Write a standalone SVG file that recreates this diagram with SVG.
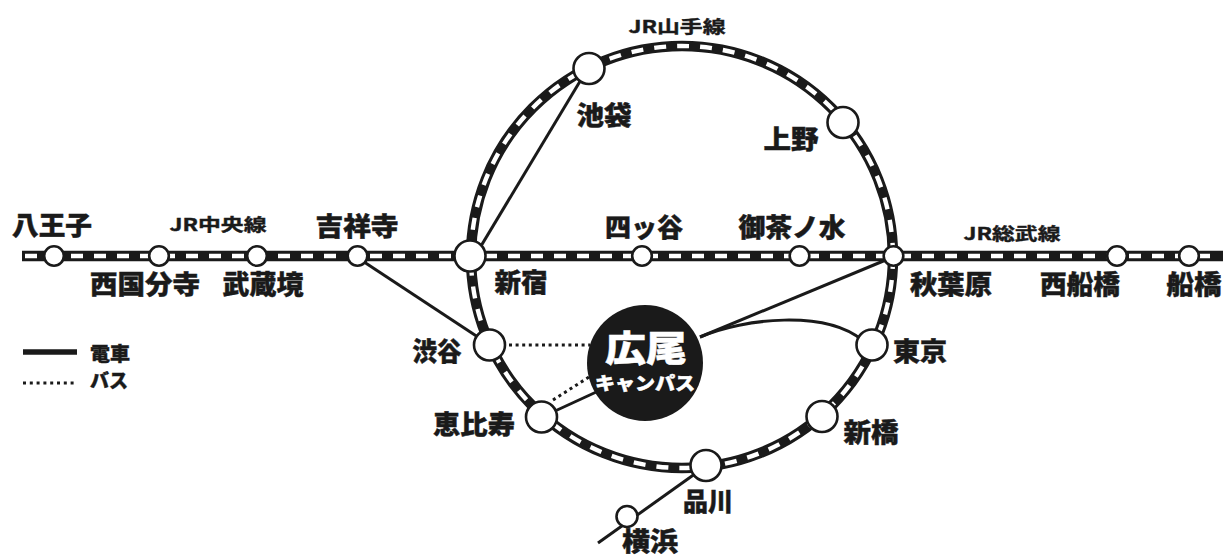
<svg xmlns="http://www.w3.org/2000/svg" width="1224" height="556" viewBox="0 0 1224 556">
<style>
.band{fill:none;stroke:#1a1a1a;stroke-width:10.5}
.dash{fill:none;stroke:#fff;stroke-width:4.4;stroke-dasharray:12 11}
.con{fill:none;stroke:#1a1a1a;stroke-width:3}
.bus{fill:none;stroke:#1a1a1a;stroke-width:3;stroke-dasharray:3 3.6}
.st{fill:#fff;stroke:#1a1a1a;stroke-width:2.6}
.lb{font-family:"Noto Sans CJK JP","Noto Sans",sans-serif;font-weight:900;font-size:26px;fill:#1a1a1a;stroke:#1a1a1a;stroke-width:0.45;text-anchor:middle}
.jr{font-family:"Noto Sans CJK JP","Noto Sans",sans-serif;font-weight:700;font-size:17px;fill:#1a1a1a;stroke:#1a1a1a;stroke-width:0.4;text-anchor:middle}
.lg{font-family:"Noto Sans CJK JP","Noto Sans",sans-serif;font-weight:900;font-size:19px;fill:#1a1a1a;stroke:#1a1a1a;stroke-width:0.4}
.cp{font-family:"Noto Sans CJK JP","Noto Sans",sans-serif;font-weight:900;fill:#fff;stroke:#fff;stroke-width:0.5;text-anchor:middle}
</style>
<rect width="1224" height="556" fill="#fff"/>
<g id="lines">
  <circle class="band" cx="682" cy="257" r="211"/>
  <circle class="dash" cx="682" cy="257" r="211"/>
  <line class="band" x1="22" y1="256" x2="1223" y2="256"/>
  <line class="dash" x1="25" y1="256" x2="1221" y2="256"/>
</g>
<g id="connectors">
  <line class="con" x1="355" y1="256" x2="490" y2="345"/>
  <line class="con" x1="475" y1="256" x2="588" y2="68"/>
  <line class="con" x1="700" y1="337" x2="893" y2="257"/>
  <path class="con" d="M700,337 C745,318 825,310 862,340"/>
  <line class="con" x1="542" y1="417" x2="605" y2="388"/>
  <line class="bus" x1="509" y1="345" x2="590" y2="345"/>
  <line class="bus" x1="553" y1="400" x2="589" y2="377"/>
  <line class="con" x1="598" y1="543" x2="706" y2="466"/>
</g>
<g id="campus">
  <circle cx="645" cy="363" r="58" fill="#1a1a1a"/>
  <text class="cp" x="646" y="362" font-size="36" textLength="82" lengthAdjust="spacingAndGlyphs">広尾</text>
  <text class="cp" x="645" y="390" font-size="18" textLength="100" lengthAdjust="spacingAndGlyphs">キャンパス</text>
</g>
<g id="st-hachioji"><circle class="st" cx="54" cy="256" r="9.8"/><text class="lb" x="52" y="235" textLength="80" lengthAdjust="spacingAndGlyphs">八王子</text></g>
<g id="st-nishikokubunji"><circle class="st" cx="159" cy="256" r="9.8"/><text class="lb" x="145" y="294" textLength="110" lengthAdjust="spacingAndGlyphs">西国分寺</text></g>
<g id="st-musashisakai"><circle class="st" cx="257" cy="256" r="9.8"/><text class="lb" x="263" y="294" textLength="81" lengthAdjust="spacingAndGlyphs">武蔵境</text></g>
<g id="st-kichijoji"><circle class="st" cx="357.5" cy="256" r="9.8"/><text class="lb" x="357" y="236" textLength="83" lengthAdjust="spacingAndGlyphs">吉祥寺</text></g>
<g id="st-shinjuku"><circle class="st" cx="470" cy="256" r="15.5"/><text class="lb" x="521" y="292" textLength="53" lengthAdjust="spacingAndGlyphs">新宿</text></g>
<g id="st-yotsuya"><circle class="st" cx="642" cy="256" r="9.8"/><text class="lb" x="644" y="237" textLength="78" lengthAdjust="spacingAndGlyphs">四ッ谷</text></g>
<g id="st-ochanomizu"><circle class="st" cx="799.5" cy="256" r="9.8"/><text class="lb" x="792" y="237" textLength="107" lengthAdjust="spacingAndGlyphs">御茶ノ水</text></g>
<g id="st-akihabara"><circle class="st" cx="893.5" cy="256" r="9.8"/><text class="lb" x="951" y="294" textLength="82" lengthAdjust="spacingAndGlyphs">秋葉原</text></g>
<g id="st-nishifunabashi"><circle class="st" cx="1117" cy="256" r="9.8"/><text class="lb" x="1080" y="294" textLength="80" lengthAdjust="spacingAndGlyphs">西船橋</text></g>
<g id="st-funabashi"><circle class="st" cx="1189" cy="256" r="9.8"/><text class="lb" x="1194" y="294" textLength="55" lengthAdjust="spacingAndGlyphs">船橋</text></g>
<g id="st-ikebukuro"><circle class="st" cx="589" cy="68.5" r="15.5"/><text class="lb" x="604" y="125" textLength="55" lengthAdjust="spacingAndGlyphs">池袋</text></g>
<g id="st-ueno"><circle class="st" cx="843" cy="122.5" r="15.5"/><text class="lb" x="791" y="149" textLength="55" lengthAdjust="spacingAndGlyphs">上野</text></g>
<g id="st-shibuya"><circle class="st" cx="489.5" cy="345" r="15.5"/><text class="lb" x="437" y="361" textLength="49" lengthAdjust="spacingAndGlyphs">渋谷</text></g>
<g id="st-ebisu"><circle class="st" cx="541.5" cy="417" r="15.5"/><text class="lb" x="474" y="434" textLength="82" lengthAdjust="spacingAndGlyphs">恵比寿</text></g>
<g id="st-shinagawa"><circle class="st" cx="706" cy="465.5" r="15.5"/><text class="lb" x="708" y="511" textLength="50" lengthAdjust="spacingAndGlyphs">品川</text></g>
<g id="st-shinbashi"><circle class="st" cx="822" cy="416.5" r="15.5"/><text class="lb" x="871" y="442" textLength="55" lengthAdjust="spacingAndGlyphs">新橋</text></g>
<g id="st-tokyo"><circle class="st" cx="872" cy="345" r="15.5"/><text class="lb" x="920" y="361" textLength="54" lengthAdjust="spacingAndGlyphs">東京</text></g>
<g id="st-yokohama"><circle class="st" cx="627" cy="516.5" r="10.5"/><text class="lb" x="650" y="551" font-size="24" textLength="56" lengthAdjust="spacingAndGlyphs">横浜</text></g>
<g id="line-labels">
  <text class="jr" x="218" y="231" textLength="97" lengthAdjust="spacingAndGlyphs">JR中央線</text>
  <text class="jr" x="677" y="33" textLength="97" lengthAdjust="spacingAndGlyphs">JR山手線</text>
  <text class="jr" x="1012" y="240" textLength="97" lengthAdjust="spacingAndGlyphs">JR総武線</text>
</g>
<g id="legend">
  <line x1="23" y1="352" x2="77" y2="352" stroke="#1a1a1a" stroke-width="5.5"/>
  <text class="lg" x="90" y="361" textLength="40" lengthAdjust="spacingAndGlyphs">電車</text>
  <line x1="23" y1="383" x2="76" y2="383" stroke="#1a1a1a" stroke-width="3" stroke-dasharray="3 3.8"/>
  <text class="lg" x="90" y="388" textLength="38" lengthAdjust="spacingAndGlyphs">バス</text>
</g>
</svg>
